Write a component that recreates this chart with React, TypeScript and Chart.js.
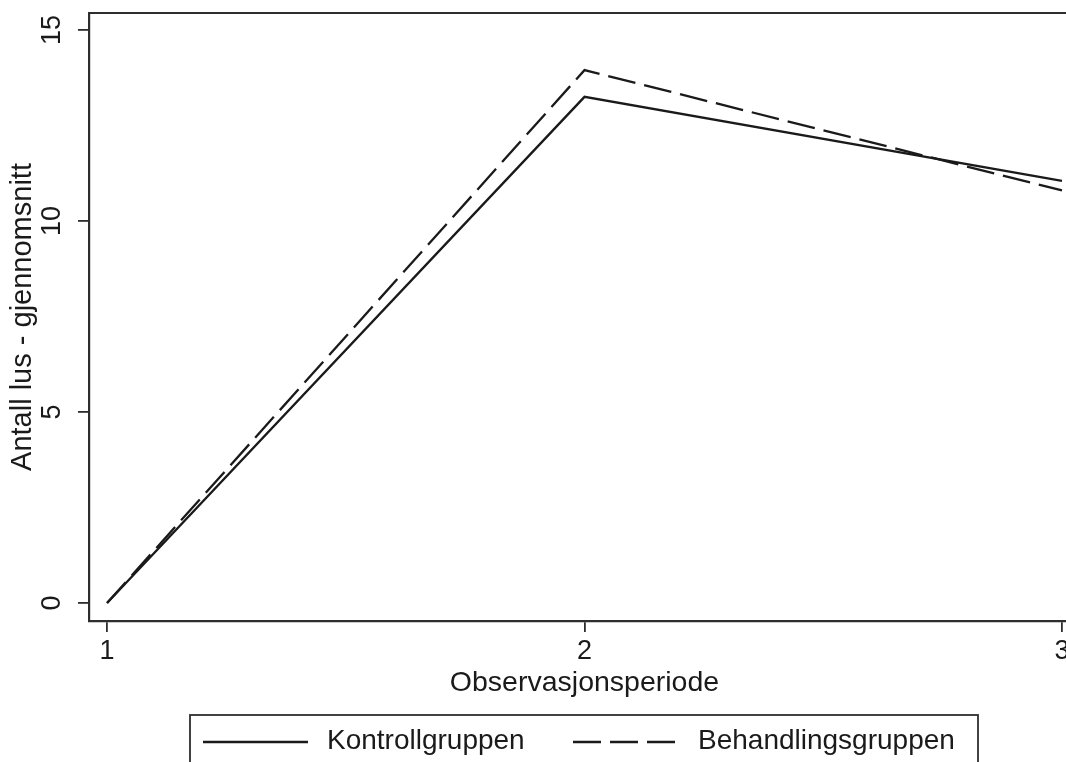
import React, { useEffect, useRef } from 'react';
import { Chart, registerables } from 'chart.js';

Chart.register(...registerables);

const periods = [1, 2, 3];
const kontroll = [0, 13.25, 11.05];
const behandling = [0, 13.95, 10.8];
const yTickValues = [0, 5, 10, 15];
const seriesLabels = ['Kontrollgruppen', 'Behandlingsgruppen'];
const xTitle = 'Observasjonsperiode';
const yTitle = 'Antall lus - gjennomsnitt';

const FONT = "'Liberation Sans', Arial, sans-serif";
const INK = '#1a1a1a';
const AXIS = '#2e2e2e';

const topBorderPlugin = {
  id: 'topBorder',
  afterDraw(chart: any) {
    const { ctx, chartArea } = chart;
    ctx.save();
    ctx.strokeStyle = AXIS;
    ctx.lineWidth = 2.2;
    ctx.beginPath();
    ctx.moveTo(chartArea.left - 1, chartArea.top);
    ctx.lineTo(chartArea.right, chartArea.top);
    ctx.stroke();
    ctx.beginPath();
    ctx.moveTo(chartArea.right, chartArea.top);
    ctx.lineTo(chartArea.right, chartArea.bottom);
    ctx.stroke();
    ctx.restore();
  },
};

const boxLegendPlugin = {
  id: 'boxLegend',
  afterDraw(chart: any) {
    const { ctx } = chart;
    ctx.save();
    ctx.strokeStyle = AXIS;
    ctx.lineWidth = 1.8;
    ctx.strokeRect(190, 715, 788, 100);
    const items = [
      { x0: 203, x1: 308, tx: 327 },
      { x0: 573, x1: 678, tx: 698 },
    ];
    chart.data.datasets.forEach((ds: any, i: number) => {
      const it = items[i];
      if (!it) return;
      ctx.strokeStyle = ds.borderColor;
      ctx.lineWidth = ds.borderWidth;
      ctx.setLineDash(ds.borderDash || []);
      ctx.beginPath();
      ctx.moveTo(it.x0, 742);
      ctx.lineTo(it.x1, 742);
      ctx.stroke();
      ctx.setLineDash([]);
      ctx.fillStyle = INK;
      ctx.font = `28px ${FONT}`;
      ctx.textBaseline = 'alphabetic';
      ctx.textAlign = 'left';
      ctx.fillText(ds.label, it.tx, 749);
    });
    ctx.restore();
  },
};

export default function App() {
  const canvasRef = useRef<HTMLCanvasElement | null>(null);

  useEffect(() => {
    if (!canvasRef.current) return;
    const chart = new Chart(canvasRef.current, {
      type: 'line',
      data: {
        datasets: [
          {
            label: seriesLabels[0],
            data: periods.map((p, i) => ({ x: p, y: kontroll[i] })),
            borderColor: INK,
            borderWidth: 2.3,
            pointRadius: 0,
            tension: 0,
            fill: false,
          },
          {
            label: seriesLabels[1],
            data: periods.map((p, i) => ({ x: p, y: behandling[i] })),
            borderColor: INK,
            borderWidth: 2.3,
            borderDash: [28, 9],
            pointRadius: 0,
            tension: 0,
            fill: false,
          },
        ],
      },
      options: {
        responsive: false,
        animation: false,
        events: [],
        layout: { padding: { left: 0, right: 0, top: 13, bottom: 0 } },
        plugins: {
          legend: { display: false },
          tooltip: { enabled: false },
          title: { display: false },
        },
        scales: {
          x: {
            type: 'linear',
            min: 1 - 18 / 477,
            max: 3 + 18 / 477,
            afterBuildTicks: (scale: any) => {
              scale.ticks = periods.map((v) => ({ value: v }));
            },
            afterFit: (scale: any) => {
              scale.height = 141;
              scale.paddingLeft = 0;
              scale.paddingRight = 0;
            },
            grid: {
              display: true,
              drawOnChartArea: false,
              drawTicks: true,
              tickLength: 11,
              color: AXIS,
              lineWidth: 1.8,
            },
            border: { display: true, color: AXIS, width: 2.2 },
            ticks: {
              color: INK,
              font: { family: FONT, size: 27 },
              padding: 3,
              maxRotation: 0,
              minRotation: 0,
              callback: (v: any) => String(v),
            },
            title: {
              display: true,
              text: xTitle,
              color: INK,
              font: { family: FONT, size: 28.5 },
              padding: { top: 0, bottom: 62 },
            },
          },
          y: {
            type: 'linear',
            min: -0.471,
            max: 15.445,
            afterBuildTicks: (scale: any) => {
              scale.ticks = yTickValues.map((v) => ({ value: v }));
            },
            afterFit: (scale: any) => {
              scale.width = 89;
              scale.paddingTop = 0;
              scale.paddingBottom = 0;
            },
            grid: {
              display: true,
              drawOnChartArea: false,
              drawTicks: true,
              tickLength: 11,
              color: AXIS,
              lineWidth: 1.8,
            },
            border: { display: true, color: AXIS, width: 2.2 },
            ticks: {
              color: INK,
              font: { family: FONT, size: 27 },
              padding: 10,
              minRotation: 90,
              maxRotation: 90,
              crossAlign: 'center',
              callback: (v: any) => String(v),
            },
            title: {
              display: true,
              text: yTitle,
              color: INK,
              font: { family: FONT, size: 29 },
              padding: { top: 6, bottom: 0 },
            },
          },
        },
      },
      plugins: [topBorderPlugin, boxLegendPlugin],
    } as any);
    return () => chart.destroy();
  }, []);

  return (
    <div
      style={{
        position: 'fixed',
        left: 0,
        top: 0,
        width: 1066,
        height: 762,
        overflow: 'hidden',
        background: '#ffffff',
      }}
    >
      <canvas ref={canvasRef} width={1080} height={762} style={{ display: 'block' }} />
    </div>
  );
}
